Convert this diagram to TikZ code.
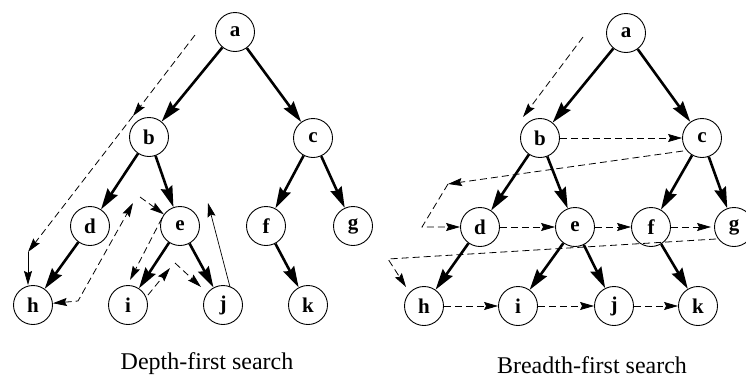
\documentclass[tikz,border=0pt]{standalone}
\usepackage{fontspec}
\setmainfont{Liberation Serif}
\usetikzlibrary{arrows.meta}
\begin{document}
\begin{tikzpicture}[x=1pt,y=-1pt,
  nd/.style={circle,draw,line width=0.9pt,minimum size=39pt,inner sep=0pt,
    font=\fontsize{21}{21}\selectfont\bfseries},
  tree/.style={line width=2.6pt,-{Stealth[length=21pt,width=12pt,inset=2.5pt]}},
  trav/.style={line width=0.8pt,dash pattern=on 7pt off 4pt,
    -{Stealth[length=14pt,width=8pt,inset=2pt]}},
  travsolid/.style={line width=0.8pt,-{Stealth[length=14pt,width=8pt,inset=2pt]}},
  captxt/.style={inner sep=1pt,font=\fontsize{24}{24}\selectfont}
]
\useasboundingbox (0,0) rectangle (746,378);

% ---------- Depth-first tree ----------
\node[nd] (a) at (235,32) {a};
\node[nd] (b) at (149,137) {b};
\node[nd] (c) at (313,138) {c};
\node[nd] (d) at (90,226) {d};
\node[nd] (e) at (180,226) {e};
\node[nd] (f) at (266,226) {f};
\node[nd] (g) at (353,226) {g};
\node[nd] (h) at (33,305) {h};
\node[nd] (i) at (128,305) {i};
\node[nd] (j) at (223,305) {j};
\node[nd] (k) at (308,305) {k};

\foreach \p/\q in {a/b,a/c,b/d,b/e,c/f,c/g,d/h,e/i,e/j,f/k}
  \draw[tree] (\p) -- (\q);

\coordinate (p1) at (195,35);
\coordinate (p2) at (133,116);
\coordinate (p3) at (28,252);
\draw[trav] (p1) -- (p2);
\draw[trav] (p2) -- (p3);
\draw[travsolid] (p3) -- (28,285) coordinate (p3e);

\coordinate (q1) at (78,301);
\coordinate (q2) at (133,203);
\draw[line width=0.8pt,dash pattern=on 7pt off 4pt,
  {Stealth[length=14pt,width=8pt,inset=2pt]}-{Stealth[length=14pt,width=8pt,inset=2pt]}]
  (h) -- (q1) -- (q2);

\coordinate (r1) at (140,197);
\draw[trav] (r1) -- (e);

\coordinate (s1) at (162,218);
\coordinate (s2) at (130,280);
\draw[trav] (s1) -- (s2);

\coordinate (t1) at (148,295);
\coordinate (t2) at (170,268);
\draw[trav] (t1) -- (t2);

\coordinate (u1) at (175,263);
\coordinate (u2) at (201,287);
\draw[trav] (u1) -- (u2);

\coordinate (v1) at (230,287);
\coordinate (v2) at (208,203);
\draw[travsolid,line width=0.7pt] (v1) -- (v2);

\node[captxt] (dfs) at (207,364) {Depth-first search};

% ---------- Breadth-first tree ----------
\node[nd] (A) at (626,33) {a};
\node[nd] (B) at (540,138) {b};
\node[nd] (C) at (702,138) {c};
\node[nd] (D) at (480,227) {d};
\node[nd] (E) at (575,227) {e};
\node[nd] (F) at (651,227) {f};
\node[nd] (G) at (734,227) {g};
\node[nd] (H) at (424,306) {h};
\node[nd] (I) at (518,306) {i};
\node[nd] (J) at (614,306) {j};
\node[nd] (K) at (698,306) {k};

\foreach \p/\q in {A/B,A/C,B/D,B/E,C/F,C/G,D/H,E/I,E/J,F/K}
  \draw[tree] (\p) -- (\q);

\coordinate (w1) at (583,37);
\coordinate (w2) at (523,117);
\draw[trav] (w1) -- (w2);

\draw[trav] (B) -- (C);

\coordinate (x1) at (683,151);
\coordinate (x2) at (448,184);
\coordinate (x3) at (422,227);
\draw[trav] (x1) -- (x2);
\draw[trav] (x2) -- (x3) -- (D);

\draw[trav] (D) -- (E);
\draw[trav] (E) -- (F);
\draw[trav,shorten >=3pt] (F) -- (G);

\coordinate (y1) at (716,239);
\coordinate (y2) at (388,259);
\coordinate (y3) at (406,287);
\draw[trav] (y1) -- (y2) -- (y3);

\draw[trav] (H) -- (I);
\draw[trav] (I) -- (J);
\draw[trav] (J) -- (K);

\node[captxt] (bfs) at (592,365) {Breadth-first search};
\end{tikzpicture}
\end{document}
